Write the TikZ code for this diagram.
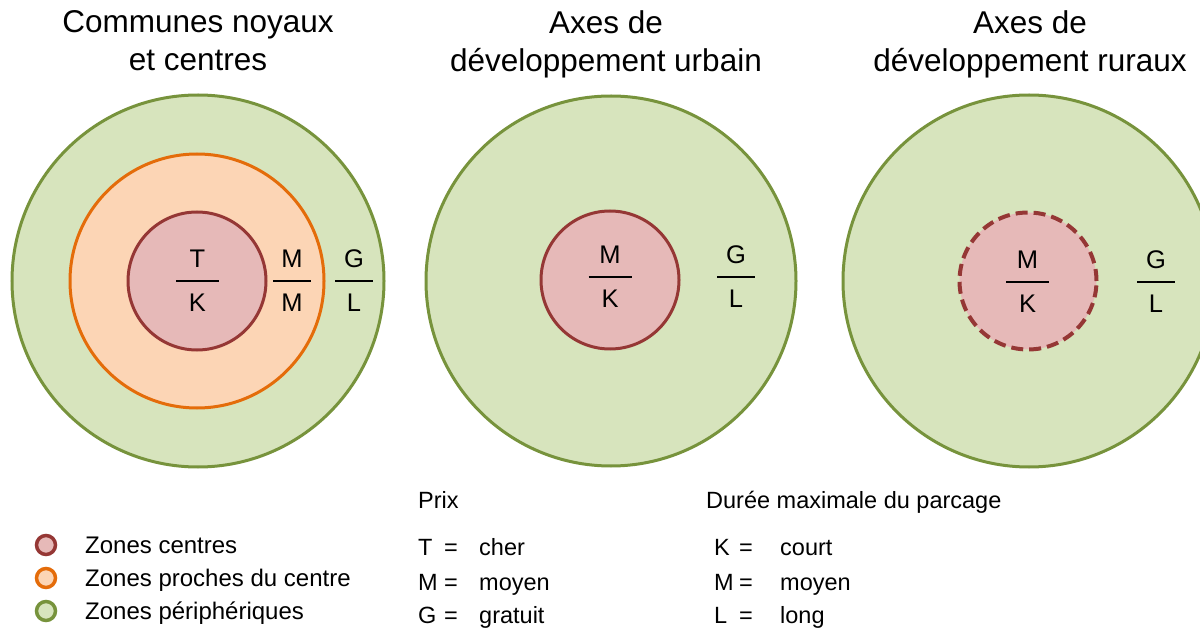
\documentclass[tikz,border=0pt]{standalone}
\usepackage{fontspec}
\setmainfont{Liberation Sans}

\definecolor{vert}{HTML}{77933C}
\definecolor{vertfond}{HTML}{D7E4BD}
\definecolor{orangetrait}{HTML}{E46C0A}
\definecolor{orangefond}{HTML}{FCD5B5}
\definecolor{rouge}{HTML}{953735}
\definecolor{rougefond}{HTML}{E6B9B8}

\tikzset{
  zone/.style={circle,inner sep=0pt,line width=3pt},
  titre/.style={font=\fontsize{31.5}{38}\selectfont,align=center,inner sep=0pt,anchor=north},
  lettre/.style={font=\fontsize{25.5}{30}\selectfont,inner sep=0pt,anchor=base},
  barre/.style={line width=2.5pt},
  puce/.style={circle,inner sep=0pt,minimum size=19pt,line width=3.5pt},
  legende/.style={font=\fontsize{24}{28}\selectfont,inner sep=0pt,anchor=base west},
  cle/.style={font=\fontsize{23.5}{28}\selectfont,inner sep=0pt,anchor=base west}
}

% fraction prix / duree : nom, x, y, haut, bas, demi-largeur
\newcommand{\tarif}[6]{%
  \coordinate (#1) at (#2,#3);
  \draw[barre] ([xshift=-#6pt]#1) -- ([xshift=#6pt]#1);
  \node[lettre] (#1h) at ([yshift=13pt]#1) {#4};
  \node[lettre] (#1b) at ([yshift=-31pt]#1) {#5};
}

\begin{document}
\begin{tikzpicture}[x=1pt,y=-1pt]
\clip (0,0) rectangle (1200,628);

% titres
\node[titre] (titre1) at (198,10) {Communes noyaux\\et centres};
\node[titre] (titre2) at (606,10) {Axes de\\développement urbain};
\node[titre] (titre3) at (1030,10) {Axes de\\développement ruraux};

% communes noyaux
\node[zone,draw=vert,fill=vertfond,minimum size=372pt] (peri1) at (198,281) {};
\node[zone,draw=orangetrait,fill=orangefond,minimum size=254pt] (proche1) at (197,281) {};
\node[zone,draw=rouge,fill=rougefond,minimum size=138pt] (centre1) at (197,281) {};
\tarif{tk}{197.5}{281}{T}{K}{21.5}
\tarif{mm}{292}{281}{M}{M}{19}
\tarif{gl1}{354}{281}{G}{L}{19}

% axes urbains
\node[zone,draw=vert,fill=vertfond,minimum size=370pt] (peri2) at (611,281) {};
\node[zone,draw=rouge,fill=rougefond,minimum size=138pt] (centre2) at (610,280) {};
\tarif{mk2}{610}{277}{M}{K}{21.5}
\tarif{gl2}{736}{277}{G}{L}{19}

% axes ruraux
\node[zone,draw=vert,fill=vertfond,minimum size=372pt] (peri3) at (1029,281) {};
\node[zone,draw=rouge,fill=rougefond,minimum size=137pt,line width=4pt,
  dash pattern=on 12pt off 6pt] (centre3) at (1028,281) {};
\tarif{mk3}{1027.5}{282}{M}{K}{21.5}
\tarif{gl3}{1156}{282}{G}{L}{19}

% legende des zones
\foreach \y/\trait/\fond/\texte [count=\i] in {545/rouge/rougefond/Zones centres,
  578/orangetrait/orangefond/Zones proches du centre,611/vert/vertfond/Zones périphériques}{
\node[puce,draw=\trait,fill=\fond] (puce\i) at (46,\y) {};
\node[legende] (leg\i) at (85,\y+8.5) {\texte};
}

% prix
\node[cle] (prix) at (418,508) {Prix};
\foreach \y/\lettre/\mot [count=\i] in {555/T/cher,590/M/moyen,623/G/gratuit}{
\node[cle] (pl\i) at (418,\y) {\lettre};
\node[cle,anchor=base] (pe\i) at (451,\y) {=};
\node[cle] (pm\i) at (479,\y) {\mot};
}

% duree
\node[cle] (duree) at (706,508) {Durée maximale du parcage};
\foreach \y/\lettre/\mot [count=\i] in {555/K/court,590/M/moyen,623/L/long}{
\node[cle] (dl\i) at (714,\y) {\lettre};
\node[cle,anchor=base] (de\i) at (746,\y) {=};
\node[cle] (dm\i) at (780,\y) {\mot};
}
\end{tikzpicture}
\end{document}
